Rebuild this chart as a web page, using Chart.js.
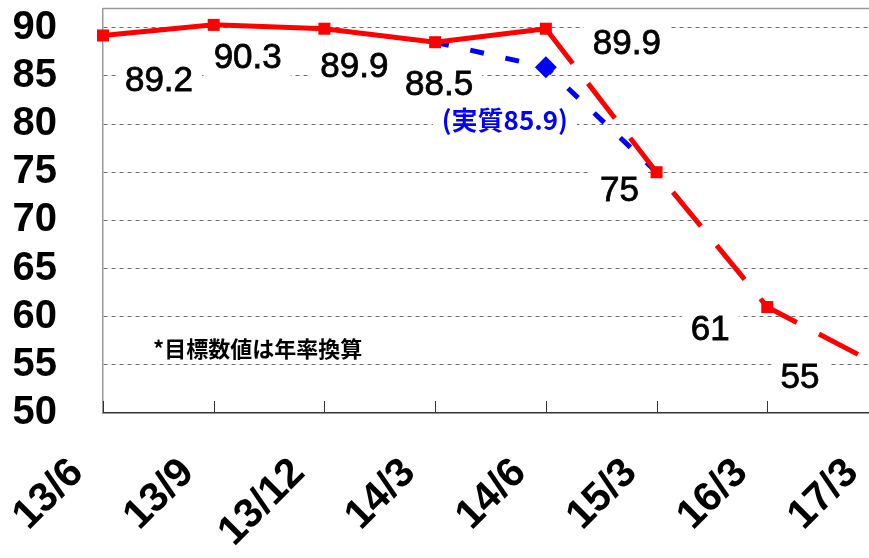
<!DOCTYPE html>
<html>
<head>
<meta charset="utf-8">
<script src="https://cdn.jsdelivr.net/npm/chart.js@4.4.0/dist/chart.umd.min.js"></script>
<style>
  html, body { margin: 0; padding: 0; background: #fff; overflow: hidden; width: 869px; height: 558px; }
  #wrap { position: relative; width: 890px; height: 558px; }
</style>
</head>
<body>
<div id="wrap"><canvas id="c"></canvas></div>
<script>
// Period labels along the x axis
const categories = ['13/6', '13/9', '13/12', '14/3', '14/6', '15/3', '16/3', '17/3'];
// Target path (annualised); first five are results, the rest are goals
const targetValues = [89.2, 90.3, 89.9, 88.5, 89.9, 75, 61, 55];
// Real-terms path branching off at 14/3
const actualValues = [null, null, null, 88.5, 85.9, 75, null, null];
// Y axis tick values
const yTicks = [50, 55, 60, 65, 70, 75, 80, 85, 90];
// Index where the target line becomes a projection (dashed)
const projectionStart = 4;
// Index of the highlighted real-terms point
const actualHighlight = 4;
const actualLabelPrefix = '(実質';
const actualLabelSuffix = ')';
const noteText = '*目標数値は年率換算';

// Label placement relative to each point (px)
const targetLabelOffsets = [[56, 46], [34, 33], [30, 39], [4, 43], [81, 16], [-37, 19], [-57, 23], [-78, 13]];
const actualLabelOffset = [-41, 53];

const RED = '#ff0000';
const BLUE = '#0000ff';
const NUM_FONT = '"Liberation Sans", Arial, sans-serif';
const JP_FONT = '"Noto Sans CJK JP", sans-serif';

// White-boxed value labels, plot frame, inward tick marks and the footnote
const decorPlugin = {
  id: 'decor',
  beforeDatasetsDraw(chart) {
    const { ctx, chartArea: a, scales: { x } } = chart;
    ctx.save();
    // top frame line
    ctx.strokeStyle = '#9a9a9a';
    ctx.lineWidth = 1.5;
    ctx.beginPath();
    ctx.moveTo(a.left, a.top);
    ctx.lineTo(a.right, a.top);
    ctx.stroke();
    // inward tick marks on the category axis
    ctx.strokeStyle = '#333';
    ctx.lineWidth = 1;
    x.ticks.forEach((t, i) => {
      const px = Math.round(x.getPixelForTick(i)) + 0.5;
      ctx.beginPath();
      ctx.moveTo(px, a.bottom);
      ctx.lineTo(px, a.bottom - 12);
      ctx.stroke();
    });
    ctx.restore();
  },
  afterDatasetsDraw(chart) {
    const { ctx, chartArea: a } = chart;
    const drawBoxed = (text, cx, cy, font, color, outline) => {
      ctx.font = font;
      const w = ctx.measureText(text).width;
      const h = parseFloat(font.match(/(\d+(\.\d+)?)px/)[1]);
      ctx.fillStyle = '#fff';
      ctx.fillRect(cx - w / 2 - 9, cy - h * 0.5 - 4, w + 18, h + 8);
      ctx.fillStyle = color;
      ctx.textAlign = 'center';
      ctx.textBaseline = 'middle';
      ctx.fillText(text, cx, cy);
      if (outline) {
        ctx.strokeStyle = color;
        ctx.lineWidth = outline;
        ctx.strokeText(text, cx, cy);
      }
    };
    ctx.save();
    const redMeta = chart.getDatasetMeta(0);
    redMeta.data.forEach((pt, i) => {
      const [dx, dy] = targetLabelOffsets[i];
      drawBoxed(String(targetValues[i]), pt.x + dx, pt.y + dy, '35px ' + NUM_FONT, '#000', 0.8);
    });
    const blueMeta = chart.getDatasetMeta(1);
    const bp = blueMeta.data[actualHighlight];
    drawBoxed(actualLabelPrefix + actualValues[actualHighlight] + actualLabelSuffix,
      bp.x + actualLabelOffset[0], bp.y + actualLabelOffset[1], 'bold 26px ' + JP_FONT, BLUE, 0);
    // footnote
    ctx.font = 'bold 22px ' + JP_FONT;
    ctx.fillStyle = '#000';
    ctx.textAlign = 'left';
    ctx.textBaseline = 'middle';
    ctx.fillText(noteText, a.left + 50, a.top + 340);
    ctx.restore();
  }
};

new Chart(document.getElementById('c'), {
  type: 'line',
  data: {
    labels: categories,
    datasets: [
      {
        data: targetValues,
        borderColor: RED,
        backgroundColor: RED,
        borderWidth: 5,
        pointStyle: 'rect',
        pointRadius: targetValues.map((v, i) => (i < targetValues.length - 1 ? 8.5 : 0)),
        pointBorderWidth: 0,
        pointBackgroundColor: RED,
        tension: 0,
        clip: false,
        segment: {
          borderDash: ctx => (ctx.p0DataIndex >= projectionStart ? [44, 25] : undefined)
        }
      },
      {
        data: actualValues,
        borderColor: BLUE,
        backgroundColor: BLUE,
        borderWidth: 5,
        borderDash: [14, 22],
        pointStyle: 'rectRot',
        pointRadius: actualValues.map((v, i) => (i === actualHighlight ? 11 : 0)),
        pointBorderWidth: 0,
        pointBackgroundColor: BLUE,
        spanGaps: false,
        tension: 0,
        clip: false
      }
    ]
  },
  options: {
    responsive: true,
    maintainAspectRatio: false,
    animation: false,
    events: [],
    layout: { padding: { left: 0, right: 12, top: 5, bottom: 0 } },
    plugins: { legend: { display: false }, tooltip: { enabled: false } },
    scales: {
      x: {
        type: 'category',
        offset: false,
        grid: { display: false },
        border: { display: true, color: '#333', width: 1.5 },
        ticks: {
          color: '#000',
          font: { family: NUM_FONT, size: 41, weight: 'bold' },
          minRotation: 45,
          maxRotation: 45,
          autoSkip: false,
          padding: 28,
          labelOffset: -26
        },
        afterFit(scale) { scale.height = 145; scale.paddingLeft = 0; scale.paddingRight = 0; }
      },
      y: {
        min: 50,
        max: 92,
        afterBuildTicks(scale) { scale.ticks = yTicks.map(v => ({ value: v })); },
        grid: {
          color: ctx => (ctx.tick && ctx.tick.value === 50 ? 'rgba(0,0,0,0)' : '#6e6e6e'),
          lineWidth: 1,
          drawTicks: false
        },
        border: { display: true, color: '#9a9a9a', width: 1.5, dash: [4, 4] },
        ticks: {
          color: '#000',
          font: { family: NUM_FONT, size: 40, weight: 'bold' },
          padding: 46,
          autoSkip: false
        },
        afterFit(scale) { scale.width = 103; scale.paddingTop = 0; scale.paddingBottom = 0; }
      }
    }
  },
  plugins: [decorPlugin]
});
</script>
</body>
</html>
